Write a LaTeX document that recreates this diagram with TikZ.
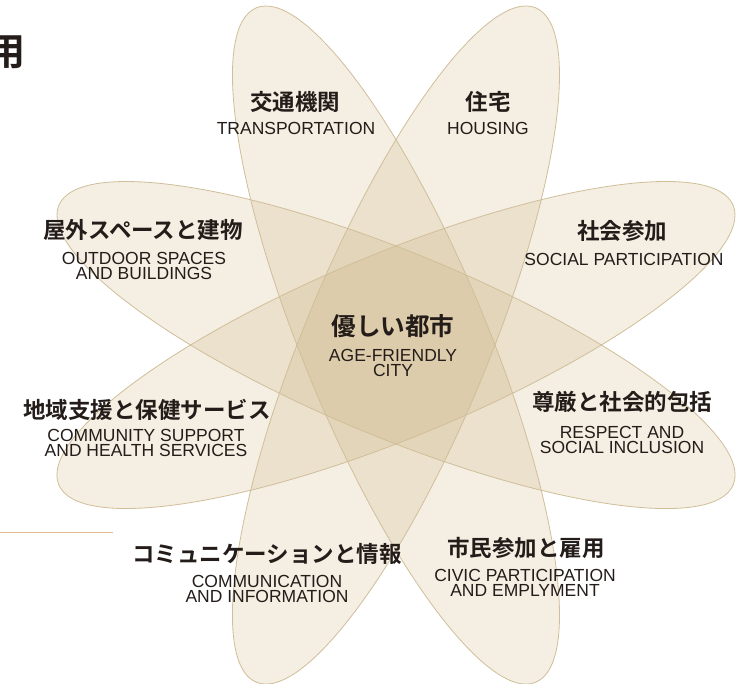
\documentclass[tikz,border=0pt]{standalone}
\usepackage{fontspec}
\setmainfont{Liberation Sans}
\newfontfamily\jpfont{Noto Sans CJK JP Bold}
\definecolor{petal}{RGB}{196,166,108}
\definecolor{petalline}{RGB}{208,190,152}
\definecolor{ink}{RGB}{35,28,25}
\definecolor{rulecol}{RGB}{224,186,142}
\begin{document}
\begin{tikzpicture}[x=1pt, y=-1pt,
    jp/.style={font=\jpfont\fontsize{22.5}{24}\selectfont, text=ink, inner sep=0pt},
    en/.style={font=\fontsize{17.5}{15.5}\selectfont, text=ink, align=center, inner sep=0pt}]
  \useasboundingbox (0,0) rectangle (738,683);
  \coordinate (c) at (396,345);
  % petals
  \foreach \a in {22.5,67.5,112.5,157.5}
    \fill[petal, fill opacity=0.19, rotate around={\a:(c)}] (c) ellipse [x radius=365pt, y radius=92pt];
  \foreach \a in {22.5,67.5,112.5,157.5}
    \draw[petalline, line width=0.8pt, rotate around={\a:(c)}] (c) ellipse [x radius=365pt, y radius=92pt];
  % title fragment and rule
  \node[font=\jpfont\fontsize{38}{40}\selectfont, text=ink, inner sep=0pt, anchor=east] (title) at (26,52) {用};
  \draw[rulecol, line width=1pt] (0,532) -- (113,532);
  % centre
  \node[jp, font=\jpfont\fontsize{24.6}{26}\selectfont] (cityJ) at (393,326) {優しい都市};
  \node[en] (cityE) at (393,363) {AGE-FRIENDLY\\CITY};
  % labels
  \node[jp] (transJ) at (295,102) {交通機関};
  \node[en] (transE) at (296,128) {TRANSPORTATION};
  \node[jp] (houseJ) at (488,102) {住宅};
  \node[en] (houseE) at (488,128) {HOUSING};
  \node[jp] (outJ) at (143,230) {屋外スペースと建物};
  \node[en] (outE) at (144,266) {OUTDOOR SPACES\\AND BUILDINGS};
  \node[jp] (socJ) at (622,231) {社会参加};
  \node[en] (socE) at (624,259) {SOCIAL PARTICIPATION};
  \node[jp] (commJ) at (147,410) {地域支援と保健サービス};
  \node[en] (commE) at (146,443) {COMMUNITY SUPPORT\\AND HEALTH SERVICES};
  \node[jp] (respJ) at (622,402) {尊厳と社会的包括};
  \node[en] (respE) at (622,440) {RESPECT AND\\SOCIAL INCLUSION};
  \node[jp] (infoJ) at (267,554) {コミュニケーションと情報};
  \node[en] (infoE) at (267,589) {COMMUNICATION\\AND INFORMATION};
  \node[jp] (civJ) at (526,548) {市民参加と雇用};
  \node[en] (civE) at (525,583) {CIVIC PARTICIPATION\\AND EMPLYMENT};
\end{tikzpicture}
\end{document}
